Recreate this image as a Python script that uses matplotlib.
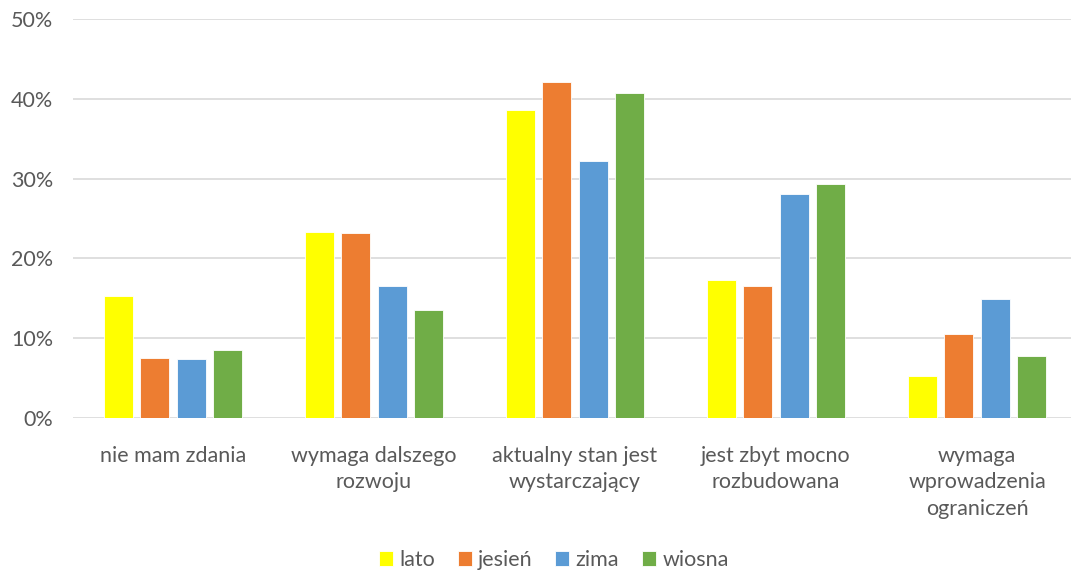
import numpy as np
import matplotlib.pyplot as plt

plt.rcParams['font.family'] = ['Lato', 'DejaVu Sans']

kategorie = ["nie mam zdania", "wymaga dalszego\nrozwoju", "aktualny stan jest\nwystarczający",
             "jest zbyt mocno\nrozbudowana", "wymaga\nwprowadzenia\nograniczeń"]
lato = [15.3, 23.3, 38.6, 17.3, 5.3]
jesien = [7.5, 23.2, 42.1, 16.5, 10.5]
zima = [7.4, 16.5, 32.2, 28.1, 14.9]
wiosna = [8.5, 13.5, 40.7, 29.3, 7.8]
serie = ["lato", "jesień", "zima", "wiosna"]
kolory = ["#FFFF00", "#ED7D31", "#5B9BD5", "#70AD47"]

fig = plt.figure(figsize=(10.71, 5.74), dpi=100)
ax = fig.add_axes([0.0677, 0.2718, 0.9384, 0.6951])

x = np.arange(len(kategorie))
szer = 0.145
krok = 0.1816
for i, (dane, nazwa, kol) in enumerate(zip([lato, jesien, zima, wiosna], serie, kolory)):
    ax.bar(x + (i - 1.5) * krok, dane, szer, color=kol, label=nazwa,
           edgecolor="white", linewidth=0.6, zorder=3)

ax.set_xlim(-0.5, len(kategorie) - 0.5)
ax.set_ylim(0, 50)
ax.set_yticks(np.arange(0, 51, 10))
ax.set_yticklabels([f"{v}%" for v in range(0, 51, 10)])
ax.set_xticks(x)
ax.set_xticklabels(kategorie, linespacing=1.42)
ax.grid(axis="y", color="#D9D9D9", linewidth=1.2, zorder=0)
for s in ax.spines.values():
    s.set_visible(False)
ax.tick_params(axis="both", length=0, labelsize=15.5, colors="#595959")
ax.tick_params(axis="x", pad=20)
ax.tick_params(axis="y", pad=14)

leg = fig.legend(loc="lower center", bbox_to_anchor=(0.517, -0.027), ncol=4, frameon=False,
                 fontsize=15.5, handlelength=0.65, handleheight=0.65, handletextpad=0.3,
                 columnspacing=1.05)
for t in leg.get_texts():
    t.set_color("#595959")

plt.savefig("out.png")
